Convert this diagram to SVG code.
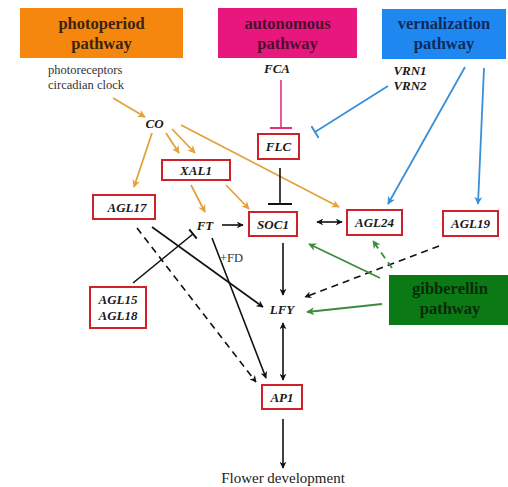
<svg xmlns="http://www.w3.org/2000/svg" width="508" height="487" viewBox="0 0 508 487">
<style>
.pw{font-family:"Liberation Serif",serif;font-weight:bold;font-size:16.5px;text-anchor:middle}
.g{font-family:"Liberation Serif",serif;font-weight:bold;font-style:italic;font-size:13px;fill:#1a1a1a;text-anchor:middle}
.t{font-family:"Liberation Serif",serif;font-size:12.5px;fill:#333}
.rb{fill:#fff;stroke:#cf2129;stroke-width:2}
.k{stroke:#111;stroke-width:1.6;fill:none}
.o{stroke:#e3a23c;stroke-width:1.8;fill:none}
.b{stroke:#3b8fd6;stroke-width:1.8;fill:none}
.gr{stroke:#3d8c3d;stroke-width:1.8;fill:none}
.p{stroke:#e0307a;stroke-width:1.6;fill:none}
.d{stroke-dasharray:7,5}
</style>
<defs>
<marker id="ak" viewBox="0 0 10 10" refX="9" refY="5" markerWidth="7" markerHeight="7" orient="auto-start-reverse" markerUnits="userSpaceOnUse"><path d="M0,0 L10,5 L0,10 L3,5 z" fill="#111"/></marker>
<marker id="ao" viewBox="0 0 10 10" refX="9" refY="5" markerWidth="8" markerHeight="8" orient="auto" markerUnits="userSpaceOnUse"><path d="M0,0 L10,5 L0,10 L3,5 z" fill="#e3a23c"/></marker>
<marker id="ab" viewBox="0 0 10 10" refX="9" refY="5" markerWidth="8" markerHeight="8" orient="auto" markerUnits="userSpaceOnUse"><path d="M0,0 L10,5 L0,10 L3,5 z" fill="#3b8fd6"/></marker>
<marker id="ag" viewBox="0 0 10 10" refX="9" refY="5" markerWidth="8" markerHeight="8" orient="auto" markerUnits="userSpaceOnUse"><path d="M0,0 L10,5 L0,10 L3,5 z" fill="#3d8c3d"/></marker>
<marker id="tk" viewBox="0 0 4 24" refX="2" refY="12" markerWidth="4" markerHeight="24" orient="auto" markerUnits="userSpaceOnUse"><path d="M2,0 V24" stroke="#111" stroke-width="2"/></marker>
<marker id="tks" viewBox="0 0 4 12" refX="2" refY="6" markerWidth="4" markerHeight="12" orient="auto" markerUnits="userSpaceOnUse"><path d="M2,0 V12" stroke="#111" stroke-width="2"/></marker>
<marker id="tp" viewBox="0 0 4 22" refX="2" refY="11" markerWidth="4" markerHeight="22" orient="auto" markerUnits="userSpaceOnUse"><path d="M2,0 V22" stroke="#e0307a" stroke-width="2"/></marker>
<marker id="tb" viewBox="0 0 4 14" refX="2" refY="7" markerWidth="4" markerHeight="14" orient="auto" markerUnits="userSpaceOnUse"><path d="M2,0 V14" stroke="#3b8fd6" stroke-width="2"/></marker>
</defs>
<rect width="508" height="487" fill="#fff"/>

<g id="photoperiod">
<rect x="20" y="8" width="163" height="50" fill="#f5870f"/>
<text class="pw" x="101.5" y="29" fill="#3a2410">photoperiod</text>
<text class="pw" x="101.5" y="49" fill="#3a2410">pathway</text>
</g>
<g id="autonomous">
<rect x="218" y="8" width="139" height="50" fill="#e8177d"/>
<text class="pw" x="287.5" y="29" fill="#4a1030">autonomous</text>
<text class="pw" x="287.5" y="49" fill="#4a1030">pathway</text>
</g>
<g id="vernalization">
<rect x="382" y="9" width="124" height="50" fill="#1e88f0"/>
<text class="pw" x="444" y="29" fill="#102a5a">vernalization</text>
<text class="pw" x="444" y="49" fill="#102a5a">pathway</text>
</g>
<g id="gibberellin">
<rect x="389" y="275" width="119" height="50" fill="#0b7a14"/>
<text class="pw" x="450" y="294" fill="#0a2a0a">gibberellin</text>
<text class="pw" x="450" y="314" fill="#0a2a0a">pathway</text>
</g>

<g id="photoreceptors">
<text class="t" x="48" y="74">photoreceptors</text>
<text class="t" x="48" y="89">circadian clock</text>
</g>
<g id="CO"><text class="g" x="154.5" y="128">CO</text></g>
<g id="FCA"><text class="g" x="277" y="73">FCA</text></g>
<g id="VRN"><text class="g" x="410" y="75">VRN1</text><text class="g" x="410" y="90">VRN2</text></g>
<g id="FLC"><rect class="rb" x="258" y="134" width="41" height="25"/><text class="g" x="278.5" y="151">FLC</text></g>
<g id="XAL1"><rect class="rb" x="162" y="160" width="68" height="20"/><text class="g" x="196" y="175">XAL1</text></g>
<g id="AGL17"><rect class="rb" x="93" y="195" width="62" height="24"/><text class="g" x="127" y="212">AGL17</text></g>
<g id="FT"><text class="g" x="205" y="230">FT</text></g>
<g id="SOC1"><rect class="rb" x="249" y="212" width="48" height="24"/><text class="g" x="273" y="229">SOC1</text></g>
<g id="AGL24"><rect class="rb" x="347" y="210" width="55" height="25"/><text class="g" x="374.5" y="227">AGL24</text></g>
<g id="AGL19"><rect class="rb" x="443" y="211" width="55" height="25"/><text class="g" x="470.5" y="228">AGL19</text></g>
<g id="AGL15_18"><rect class="rb" x="90" y="287" width="56" height="41"/><text class="g" x="118" y="304">AGL15</text><text class="g" x="118" y="320">AGL18</text></g>
<g id="LFY"><text class="g" x="282" y="314">LFY</text></g>
<g id="AP1"><rect class="rb" x="262" y="385" width="40" height="24"/><text class="g" x="282" y="402">AP1</text></g>
<g id="flower"><text x="283" y="483" font-family="Liberation Serif,serif" font-size="15" fill="#222" text-anchor="middle">Flower development</text></g>

<g id="connectors">
<line class="o" x1="113" y1="98" x2="145" y2="117" marker-end="url(#ao)"/>
<line class="o" x1="152" y1="133" x2="134" y2="187" marker-end="url(#ao)"/>
<line class="o" x1="166" y1="133" x2="179" y2="153" marker-end="url(#ao)"/>
<line class="o" x1="172" y1="129" x2="195" y2="153" marker-end="url(#ao)"/>
<line class="o" x1="181" y1="125" x2="339" y2="207" marker-end="url(#ao)"/>
<line class="o" x1="191" y1="185" x2="205" y2="212" marker-end="url(#ao)"/>
<line class="o" x1="226" y1="185" x2="249" y2="209" marker-end="url(#ao)"/>

<line class="p" x1="281" y1="80" x2="281" y2="128" marker-end="url(#tp)"/>
<line class="b" x1="388" y1="86" x2="315" y2="132" marker-end="url(#tb)"/>
<line class="b" x1="465" y1="67" x2="388" y2="204" marker-end="url(#ab)"/>
<line class="b" x1="484" y1="68" x2="478" y2="204" marker-end="url(#ab)"/>

<line class="k" x1="280" y1="168" x2="280" y2="204" marker-end="url(#tk)"/>
<line class="k" x1="222" y1="225" x2="243" y2="225" marker-end="url(#ak)"/>
<line class="k" x1="317" y1="222" x2="342" y2="222" marker-start="url(#ak)" marker-end="url(#ak)"/>
<line class="k" x1="283" y1="243" x2="283" y2="295" marker-end="url(#ak)"/>
<line class="k d" x1="439" y1="246" x2="305" y2="297" marker-end="url(#ak)"/>
<line class="gr d" x1="392" y1="268" x2="373" y2="241" marker-end="url(#ag)"/>
<line class="gr" x1="380" y1="278" x2="309" y2="244" marker-end="url(#ag)"/>
<line class="gr" x1="382" y1="304" x2="307" y2="312" marker-end="url(#ag)"/>

<line class="k" x1="152" y1="227" x2="263" y2="307" marker-end="url(#ak)"/>
<line class="k d" x1="137" y1="228" x2="256" y2="382" marker-end="url(#ak)"/>
<line class="k" x1="133" y1="283" x2="193" y2="234" marker-end="url(#tks)"/>
<line class="k" x1="212" y1="238" x2="266" y2="378" marker-end="url(#ak)"/>
<text x="220" y="262" font-family="Liberation Serif,serif" font-size="12.5" fill="#333">+FD</text>
<line class="k" x1="283" y1="323" x2="283" y2="380" marker-start="url(#ak)" marker-end="url(#ak)"/>
<line class="k" x1="283" y1="419" x2="283" y2="468" marker-end="url(#ak)"/>
</g>
</svg>
